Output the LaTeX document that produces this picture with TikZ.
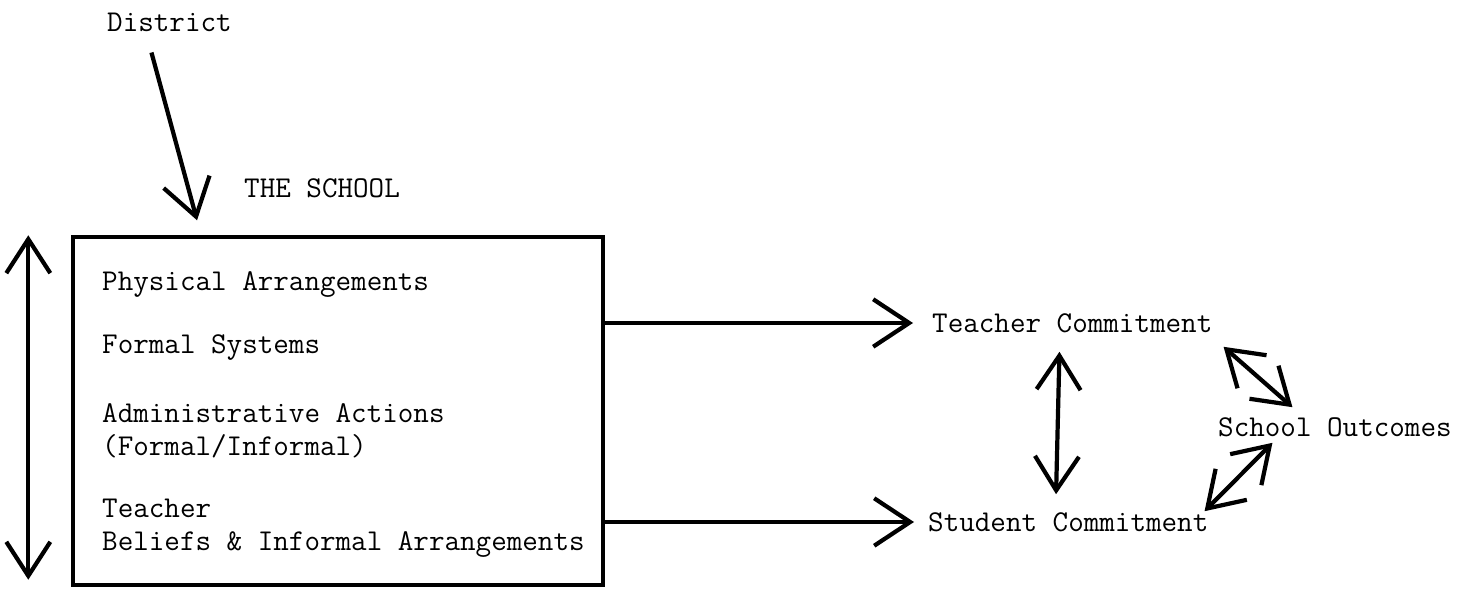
\documentclass[tikz,border=0pt]{standalone}
\usetikzlibrary{arrows.meta}

\tikzset{
    lbl/.style={font=\ttfamily\fontsize{17.2}{19}\selectfont, anchor=west, align=left},
    arr/.style={line width=2.4pt, -{Straight Barb[length=0.72cm, width=0.95cm, line width=2.4pt]}},
    dblarr/.style={line width=2.4pt, {Straight Barb[length=0.68cm, width=0.88cm, line width=2.4pt]}-{Straight Barb[length=0.68cm, width=0.88cm, line width=2.4pt]}}
}

\begin{document}
\begin{tikzpicture}[x=0.02cm, y=-0.02cm]
\useasboundingbox (0,0) rectangle (1474,591);

% District and the school
\node[lbl] (district) at (101,22) {District};
\node[lbl] (school) at (238,188) {THE SCHOOL};
\node[draw, line width=2pt, minimum width=10.6cm, minimum height=6.96cm] (box) at (338,411) {};

\node[lbl] (phys) at (96,285) {Physical Arrangements};
\node[lbl] (formal) at (96,348) {Formal Systems};
\node[lbl] (admin) at (96,431) {Administrative Actions\\(Formal/Informal)};
\node[lbl] (beliefs) at (96,528) {Teacher\\Beliefs \& Informal Arrangements};

\draw[arr] ([xshift=-0.36cm, yshift=-0.3cm]district.south) -- ([xshift=-2.82cm, yshift=0.3cm]box.north);

\coordinate (lefttop) at ([xshift=-0.86cm]box.north west);
\coordinate (leftbot) at ([xshift=-0.86cm, yshift=0.14cm]box.south west);
\draw[dblarr] (lefttop) -- (leftbot);

% Commitments
\node[lbl] (tcom) at (926,323) {Teacher Commitment};
\node[lbl] (scom) at (922,522) {Student Commitment};
\node[lbl] (outc) at (1212,427) {School Outcomes};

\draw[arr, shorten >=0.26cm] (box.east |- tcom.west) -- (tcom.west);
\draw[arr, shorten >=0.16cm] (box.east |- scom.west) -- (scom.west);

\draw[dblarr, shorten <=0.26cm, shorten >=0.24cm] ([xshift=-0.25cm]tcom.south) -- ([xshift=-0.25cm]scom.north);
\draw[dblarr] ([xshift=0.1cm, yshift=-0.16cm]tcom.south east) -- ([xshift=-0.85cm, yshift=0.08cm]outc.north);
\draw[dblarr] ([xshift=-0.2cm, yshift=-0.1cm]scom.north east) -- ([xshift=-1.25cm]outc.south);
\end{tikzpicture}
\end{document}
